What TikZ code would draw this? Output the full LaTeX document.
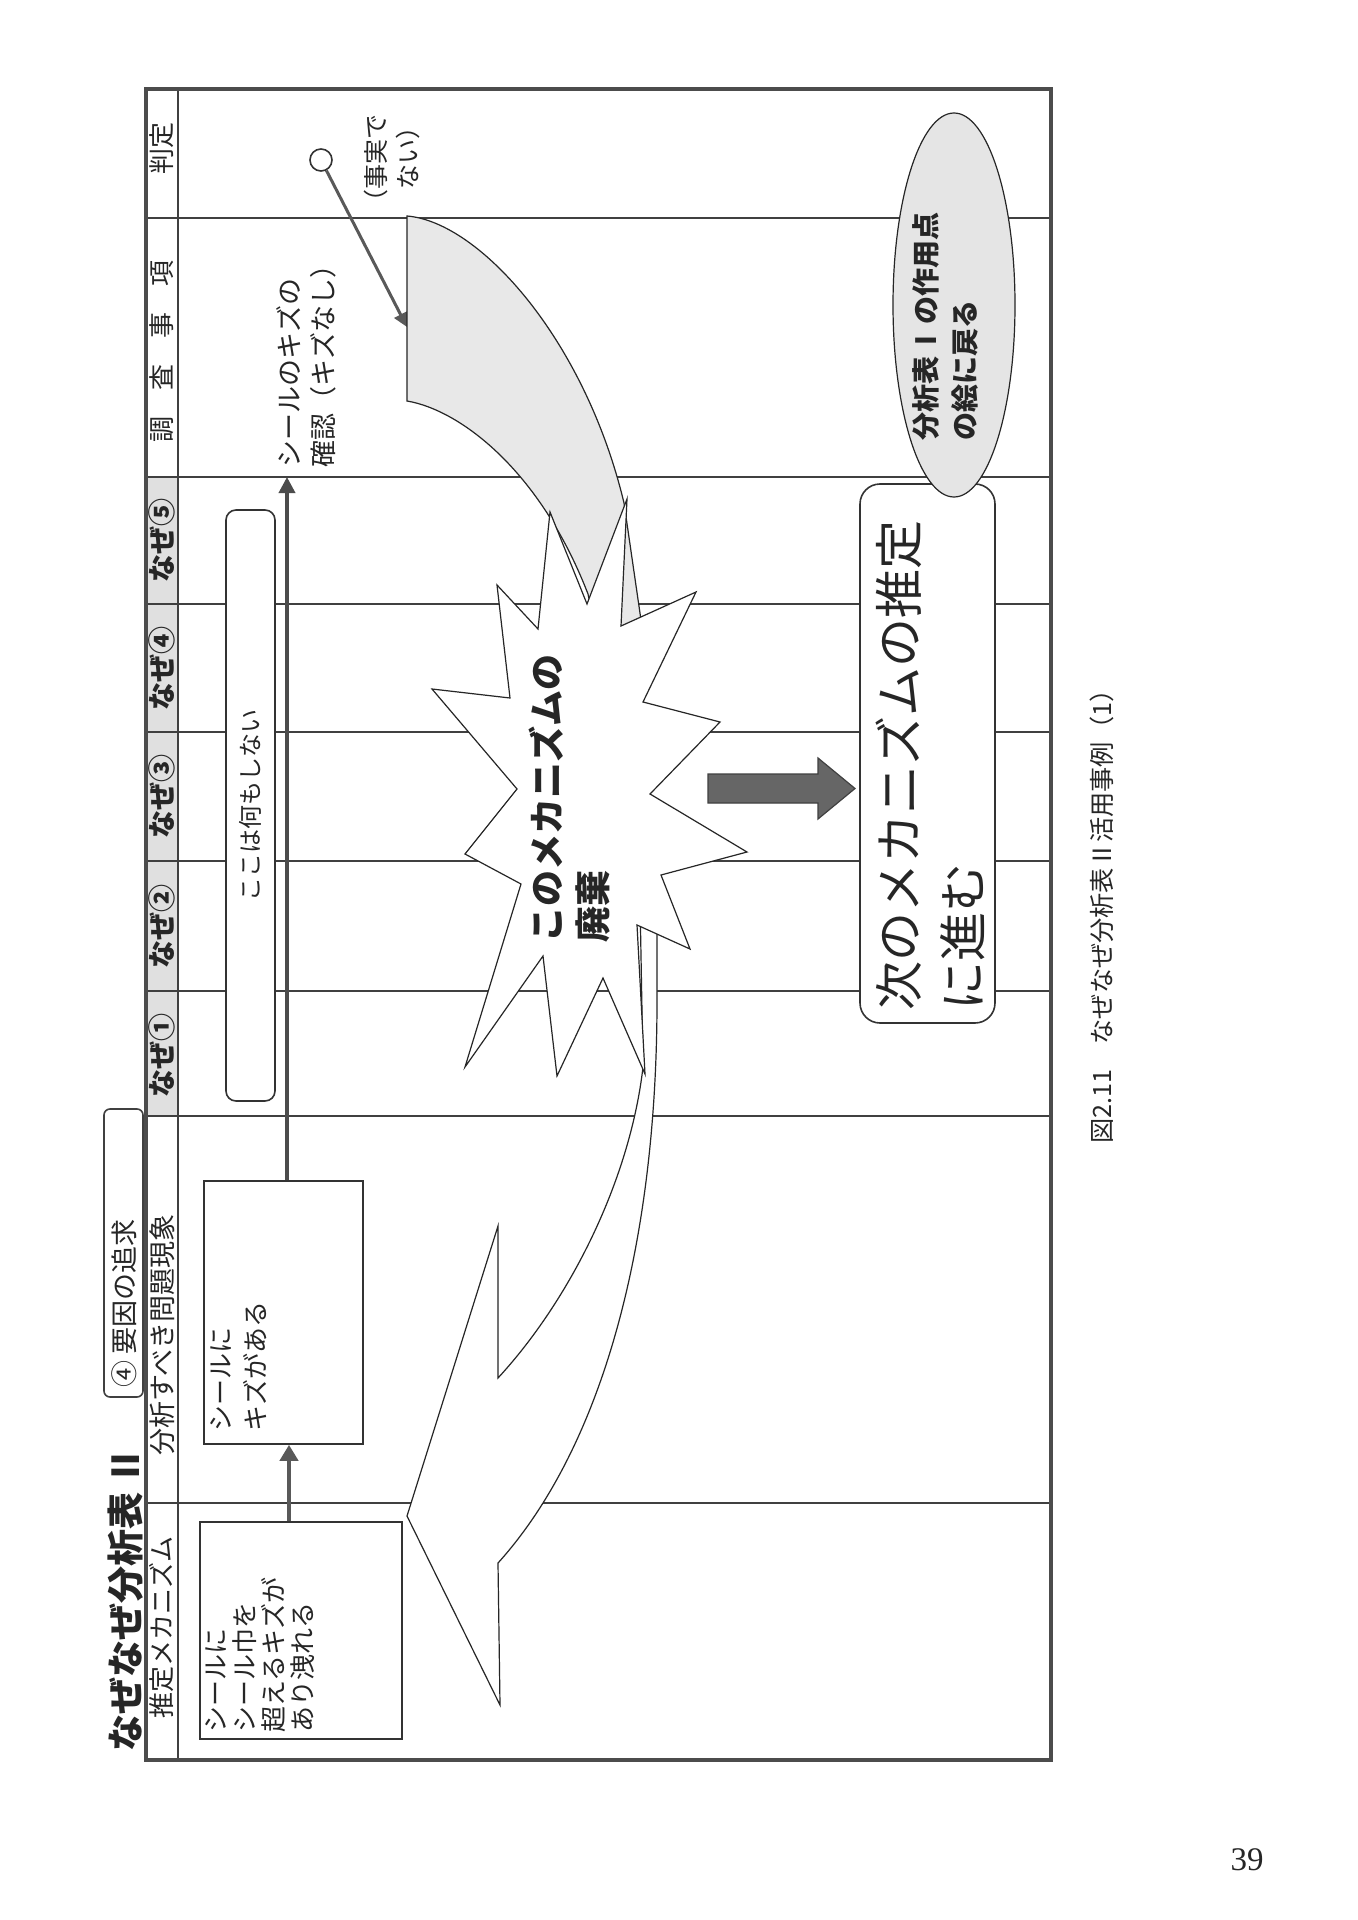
\documentclass[tikz,border=0pt]{standalone}
\usepackage{fontspec}
\setmainfont{Noto Sans CJK JP}
\newfontfamily\numfont{Liberation Serif}
\usetikzlibrary{arrows.meta}
\newcommand\myfs[2]{\fontsize{#1}{#2}\selectfont}
\begin{document}
\begin{tikzpicture}[x=0.5pt,y=-0.5pt,
  tline/.style={draw=black!75, line width=1pt},
  frameline/.style={draw=black!70, line width=1.8pt},
  boxd/.style={draw=black!80, line width=0.8pt, fill=white, inner sep=0pt},
  vt/.style={rotate=90, inner sep=0pt, text=black!85},
  thickarrow/.style={draw=black!65, line width=2.2pt, -{Triangle[width=9pt,length=8pt]}},
  midarrow/.style={draw=black!70, line width=1.8pt, -{Triangle[width=8pt,length=8pt]}},
  thinarrow/.style={draw=black!65, line width=1.5pt, -{Triangle[width=7pt,length=7pt]}},
  shapeline/.style={draw=black!85, line width=0.6pt}
]
\useasboundingbox (0,0) rectangle (1357,1920);
\fill[white] (0,0) rectangle (1357,1920);

% header shading
\fill[black!12] (146,477) rectangle (178,1116);
% table lines
\foreach \yy in {218,477,604,732,861,991,1116,1503}
  \draw[tline] (146,\yy) -- (1051,\yy);
\draw[tline] (178,89) -- (178,1760);
\draw[frameline] (146,89) rectangle (1051,1760);

% header texts
\node[vt, font=\myfs{13}{15}] (h1) at (162,149) {判定};
\node[vt, font=\myfs{13}{15}] (h2) at (162,351) {調　査　事　項};
\node[vt, font=\bfseries\myfs{14}{15}] (h3) at (162,540) {なぜ⑤};
\node[vt, font=\bfseries\myfs{14}{15}] (h4) at (162,668) {なぜ④};
\node[vt, font=\bfseries\myfs{14}{15}] (h5) at (162,796) {なぜ③};
\node[vt, font=\bfseries\myfs{14}{15}] (h6) at (162,926) {なぜ②};
\node[vt, font=\bfseries\myfs{14}{15}] (h7) at (162,1055) {なぜ①};
\node[vt, font=\myfs{13.5}{15}] (h8) at (162,1335) {分析すべき問題現象};
\node[vt, font=\myfs{13}{15}] (h9) at (162,1627) {推定メカニズム};

% title
\node[vt, anchor=west, font=\bfseries\myfs{18.5}{20}] (title) at (126,1752) {なぜなぜ分析表 Ⅱ};
\node[draw=black!75, line width=0.8pt, rounded corners=3pt, minimum width=19.5pt, minimum height=144pt, inner sep=0pt] (tagbox) at (123.5,1253) {};
\node[vt, anchor=west, font=\myfs{13.5}{15}] (tag) at (124,1388) {④ 要因の追求};

% boxes
\node[boxd, minimum width=101pt, minimum height=108.5pt] (box1) at (301,1630.5) {};
\node[vt, anchor=north west, align=left, font=\myfs{13}{14.6}] (t1) at (205,1733) {シールに\\シール巾を\\超えるキズが\\あり洩れる};
\node[boxd, minimum width=79.5pt, minimum height=131.5pt] (box2) at (283.5,1312.5) {};
\node[vt, anchor=north west, align=left, font=\myfs{13}{17.5}] (t2) at (210,1432) {シールに\\キズがある};
\node[boxd, rounded corners=5pt, minimum width=24.5pt, minimum height=295.5pt] (nothing) at (250.5,805.5) {};
\node[vt, font=\myfs{12}{14}] (tn) at (250,805) {ここは何もしない};

% arrows
\coordinate (ax) at (289,1500);
\draw[thickarrow] (box1.north -| ax) -- (box2.south -| ax);
\coordinate (chk) at (287,477);
\draw[midarrow] (box2.north -| chk) -- (chk);
\node[vt, anchor=north west, align=left, font=\myfs{13.5}{17}] (tchk) at (276,468) {シールのキズの\\確認（キズなし）};

% judgement
\node[circle, draw=black!80, line width=0.8pt, minimum size=11pt, inner sep=0pt] (maru) at (321,160) {};
\node[vt, anchor=north east, align=right, font=\myfs{12.5}{16}] (tfact) at (364,114) {（事実で\\ない）};
\coordinate (bandtip) at (407,327);
\draw[thinarrow] (maru) -- (bandtip);

% gray curved band (behind star)
\path[shapeline, fill=black!9] (407,216) .. controls (480,222) and (585,340) .. (624,503)
  -- (641,620) -- (600,650) -- (588,594)
  .. controls (540,470) and (460,410) .. (407,401) -- cycle;

% white curved arrow back to mechanism
\path[shapeline, fill=white] (640,900) -- (657,900) -- (657,1000)
  .. controls (657,1250) and (600,1450) .. (498,1563)
  -- (500,1705) -- (407,1516) -- (498,1226) -- (498,1378)
  .. controls (570,1300) and (630,1180) .. (643,1067) -- cycle;

% explosion star
\path[shapeline, fill=white] (627,499) -- (621,626) -- (696,592) -- (643,702) -- (720,722)
  -- (650,794) -- (747,852) -- (661,875) -- (690,949) -- (637,925) -- (645,1074)
  -- (603,978) -- (557,1076) -- (543,956) -- (465,1067) -- (521,884) -- (465,854)
  -- (517,789) -- (432,689) -- (510,698) -- (497,585) -- (538,629) -- (550,512)
  -- (587,604) -- cycle;
\node[vt, anchor=north west, align=left, font=\bfseries\myfs{18}{23}] (tstar) at (529,943) {このメカニズムの\\廃棄};

% dark block arrow
\path[draw=black!75, line width=0.6pt, fill=black!60] (708,774) -- (818,774) -- (818,758) -- (855,788.5)
  -- (818,819) -- (818,803) -- (708,803) -- cycle;

% next box
\node[boxd, rounded corners=10pt, minimum width=67.5pt, minimum height=269.5pt] (nextbox) at (927.5,753.5) {};
\node[vt, anchor=north west, align=left, font=\myfs{24.5}{32}] (tnext) at (875,1011) {次のメカニズムの推定\\に進む};

% ellipse
\path[shapeline, fill=black!10] (954,305) ellipse [x radius=61, y radius=192];
\node[vt, anchor=north west, align=left, font=\bfseries\myfs{14}{19.5}] (tell) at (912,441) {分析表\hspace{0.4em}I\hspace{0.4em}の作用点\\の絵に戻る};

% caption and page number
\node[vt, anchor=west, font=\myfs{12.6}{14}] (cap) at (1102,1144) {図2.11　なぜなぜ分析表Ⅱ活用事例（1）};
\node[inner sep=0pt, text=black!85, font=\numfont\myfs{16.5}{18}] (pg) at (1247,1860) {39};
\end{tikzpicture}
\end{document}
